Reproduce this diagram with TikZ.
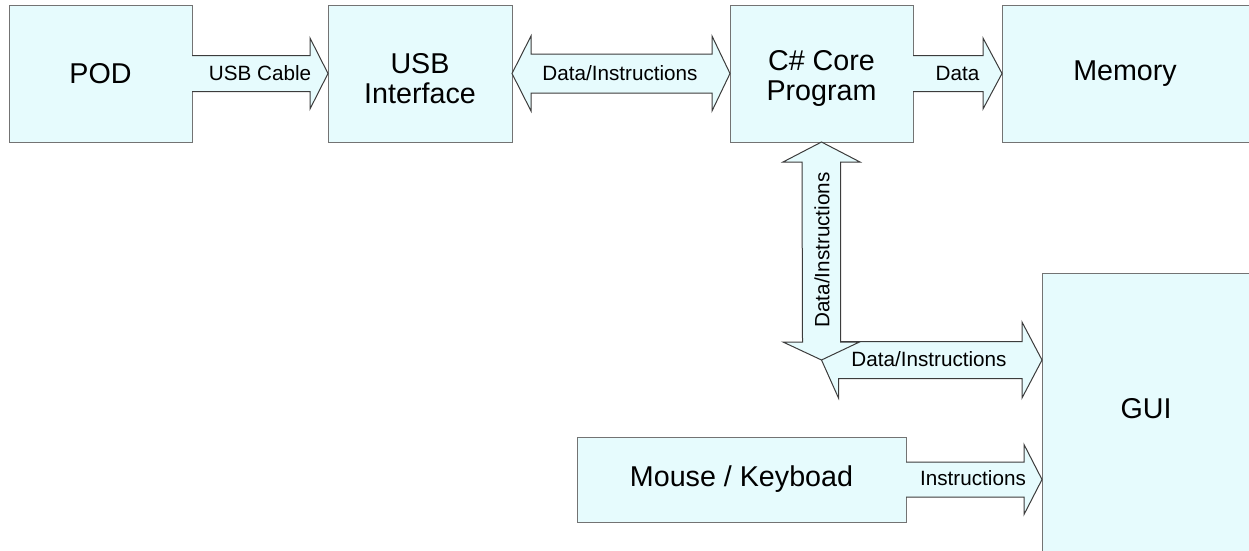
\documentclass[tikz,border=0pt]{standalone}
\usepackage{fontspec}
\setmainfont{Liberation Sans}
\usetikzlibrary{calc}
\definecolor{boxfill}{RGB}{230,251,253}
\definecolor{boxline}{RGB}{115,115,115}
\definecolor{arrline}{RGB}{60,60,60}
\begin{document}
\begin{tikzpicture}[x=0.75pt,y=-0.75pt,
  box/.style={draw=boxline, fill=boxfill, line width=0.75pt, inner sep=0pt, outer sep=0pt,
    align=center, font=\fontsize{21.5}{22.5}\selectfont},
  blockarrow/.style={draw=arrline, fill=boxfill, line width=0.75pt, line join=miter},
  lbl/.style={inner sep=0pt, font=\fontsize{15.5}{18}\selectfont},
  big/.style={inner sep=0pt, align=center, font=\fontsize{21.5}{23}\selectfont}]
\useasboundingbox (0,0) rectangle (1249,550);
\clip (0,0) rectangle (1249,550);

% boxes
\node[box, minimum width={183*0.75pt}, minimum height={137*0.75pt}] (pod) at (100.5,73.5) {POD};
\node[box, minimum width={184*0.75pt}, minimum height={137*0.75pt}] (usb) at (420,73.5) {};
\node[big] (usbtxt) at (420,78.5) {USB\\Interface};
\node[box, minimum width={183*0.75pt}, minimum height={137*0.75pt}] (core) at (821.5,73.5) {};
\node[big] (coretxt) at (821.5,78.5) {C\# Core\\Program};
\node[box, minimum width={254*0.75pt}, minimum height={137*0.75pt}] (mem) at (1129,73.5) {};
\node[big] (memtxt) at (1125,73.5) {Memory};
\node[box, minimum width={214*0.75pt}, minimum height={287*0.75pt}] (gui) at (1149,416.5) {};
\node[big] (guitxt) at (1146,409) {GUI};
\node[box, minimum width={329*0.75pt}, minimum height={85*0.75pt}] (mouse) at (741.5,479.5) {Mouse / Keyboad};

\coordinate (vj) at (821.5,360);
\coordinate (gin) at (gui.west |- vj);
\coordinate (gin2) at (gui.west |- mouse.east);

% POD -> USB
\draw[blockarrow] ($(pod.east)+(0,-18)$) -- ($(usb.west)+(-18,-18)$) -- ++(0,-17.5) -- (usb.west)
  -- ++(-18,35.5) -- ++(0,-17.5) -- ($(pod.east)+(0,18)$);
\node[lbl] (l1) at (260,73) {USB Cable};

% USB <-> Core
\draw[blockarrow] (usb.east) -- ++(19,-37.5) -- ++(0,18) -- ($(core.west)+(-18,-19.5)$) -- ++(0,-18)
  -- (core.west) -- ++(-18,37.5) -- ++(0,-18) -- ($(usb.east)+(19,19.5)$) -- ++(0,18) -- cycle;
\node[lbl] (l2) at (620,73) {Data/Instructions};

% Core -> Memory
\draw[blockarrow] ($(core.east)+(0,-18)$) -- ($(mem.west)+(-19,-18)$) -- ++(0,-17.5) -- (mem.west)
  -- ++(-19,35.5) -- ++(0,-17.5) -- ($(core.east)+(0,18)$);
\node[lbl] (l3) at (957.5,73) {Data};

% junction -> GUI (horizontal double)
\draw[blockarrow] (vj) -- ++(17,-38) -- ++(0,19.5) -- ($(gin)+(-20,-18.5)$) -- ++(0,-19.5) -- (gin)
  -- ++(-20,38) -- ++(0,-19.5) -- ($(vj)+(17,18.5)$) -- ++(0,19.5) -- cycle;
\node[lbl] (l5) at (929,359) {Data/Instructions};

% Core <-> junction (vertical double)
\draw[blockarrow] (core.south) -- ++(-38.5,20) -- ++(19,0) -- ($(vj)+(-19,-18)$) -- ++(-19.5,0)
  -- (vj) -- ++(38,-18) -- ++(-19,0) -- ($(core.south)+(19,20)$) -- ++(19.5,0) -- cycle;
\node[lbl, rotate=90] (l4) at (822,250) {Data/Instructions};

% Mouse -> GUI
\draw[blockarrow] ($(mouse.east)+(0,-17.5)$) -- ($(gin2)+(-18,-17.5)$) -- ++(0,-17.5) -- (gin2)
  -- ++(-18,35) -- ++(0,-17.5) -- ($(mouse.east)+(0,17.5)$);
\node[lbl] (l6) at (973,478) {Instructions};
\end{tikzpicture}
\end{document}
